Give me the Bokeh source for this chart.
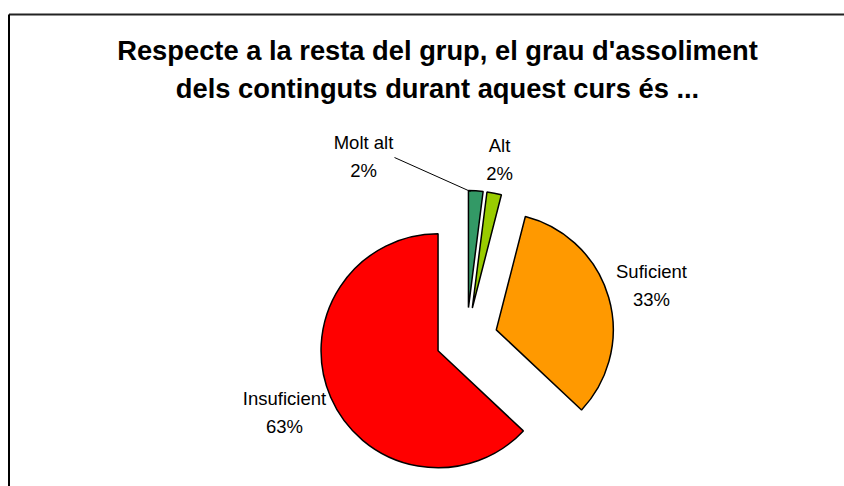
import math
from bokeh.plotting import figure
from bokeh.models import Range1d, ColumnDataSource
from bokeh.core.properties import value
from bokeh.embed import file_html
from bokeh.resources import INLINE

categories = ["Molt alt", "Alt", "Suficient", "Insuficient"]
percents = [2, 2, 33, 63]
colors = ["#339966", "#99CC00", "#FF9900", "#FF0000"]
title_lines = ["Respecte a la resta del grup, el grau d'assoliment",
               "dels continguts durant aquest curs és ..."]

W, H = 844, 486
p = figure(width=W, height=H, output_backend="svg", toolbar_location=None,
           x_range=Range1d(0, W), y_range=Range1d(0, H), min_border=0)
p.axis.visible = False
p.grid.visible = False
p.outline_line_color = None
p.background_fill_color = "white"

def sy(y):  # screen y -> data y
    return H - y

# pie geometry (layout)
cx, cy = 466.0, sy(338.0)
r = 117.0
explode = 31.0

total = float(sum(percents))
xs, ys, sa, ea = [], [], [], []
acc = 0.0
for pct in percents:
    t0 = acc / total * 360.0
    t1 = (acc + pct) / total * 360.0
    mid = math.radians((t0 + t1) / 2)
    xs.append(cx + explode * math.sin(mid))
    ys.append(cy + explode * math.cos(mid))
    sa.append(math.radians(90 - t0))
    ea.append(math.radians(90 - t1))
    acc += pct

src = ColumnDataSource(dict(x=xs, y=ys, sa=sa, ea=ea, color=colors))
p.wedge(x="x", y="y", radius=r, start_angle="sa", end_angle="ea",
        direction="clock", fill_color="color", line_color="black",
        line_width=1.5, source=src)

# label layout
label_pos = [(363, 142), (499, 145), (651, 271), (284, 398)]
lx, ly, lt = [], [], []
for (x, y), c, pct in zip(label_pos, categories, percents):
    lx += [x, x]
    ly += [sy(y), sy(y + 28)]
    lt += [c, f"{pct}%"]
p.text(x=lx, y=ly, text=lt, text_align="center", text_baseline="middle",
       text_font=value("Liberation Sans"), text_font_size="18.5px",
       text_color="black")

# leader line for Molt alt
p.line(x=[394, 470], y=[sy(157), sy(191)], line_color="black", line_width=1)

# title
p.text(x=[437, 437], y=[sy(50), sy(88)], text=title_lines, text_align="center",
       text_baseline="middle", text_font=value("Liberation Sans"),
       text_font_style="bold", text_font_size="27.3px", text_color="black")

# chart area frame (top and left edges visible)
p.line(x=[8.5, W], y=[sy(14), sy(14)], line_color="#222222", line_width=2)
p.line(x=[8.5, 8.5], y=[sy(14), 0], line_color="black", line_width=2)

open("out.html", "w").write(file_html(p, INLINE))
